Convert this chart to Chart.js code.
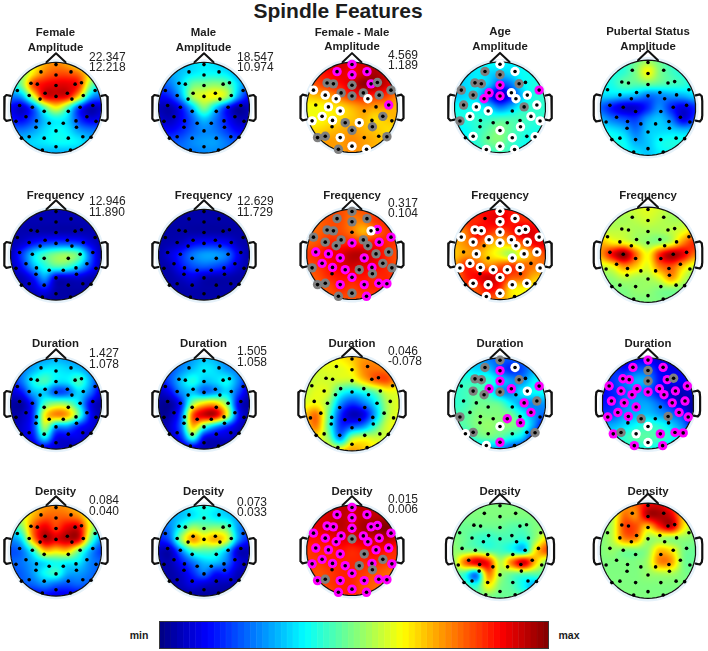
<!DOCTYPE html>
<html><head><meta charset="utf-8">
<style>
html,body{margin:0;padding:0;background:#fff;width:708px;height:651px;overflow:hidden}
body{position:relative;font-family:"Liberation Sans",Arial,sans-serif;color:#1c1c1c}
canvas{position:absolute;display:block}
.t{position:absolute;transform:translate(-50%,-50%);white-space:nowrap;font-weight:bold;font-size:11.4px;line-height:1;z-index:5}
.n{position:absolute;transform:translateY(-50%);white-space:nowrap;font-size:12px;line-height:1;z-index:5;color:#222}
</style>
<script src="https://cdn.jsdelivr.net/npm/chart.js@4"></script>
</head><body>
<script>
/* electrode positions, head radius = 1 */
const electrodeX=[0,-.33,.33,0,-.55,-.41,.42,.56,0,-.85,-.59,-.24,-.35,.25,.35,.60,.86,0,-.80,-.52,-.26,.27,.53,.81,-.66,-.43,-.15,.16,.44,.68,-.88,.88,-.44,.45,0,-.76,-.59,-.26,.27,.59,.77,0,-.30,.32];
const electrodeY=[.95,.79,.79,.72,.54,.52,.52,.55,.49,.38,.27,.32,.19,.32,.19,.27,.38,.25,.05,.01,-.08,-.08,.01,.05,-.20,-.29,-.34,-.34,-.29,-.20,-.30,-.30,-.43,-.43,-.51,-.67,-.64,-.67,-.67,-.64,-.65,-.86,-.93,-.93];

/* map values, 0 = colour-bar min, 100 = colour-bar max, rows run front to back */
const ampFemale=[[45,50,60,70,74,70,60,50,45],[45,50,65,76,80,80,76,62,45],[36,50,80,88,90,90,84,52,36],[24,30,58,88,90,88,66,32,22],[12,8,22,46,62,46,20,6,8],[14,12,20,32,38,34,18,10,12],[24,24,28,34,38,36,28,24,24],[32,32,34,36,38,38,36,32,32],[30,30,30,30,30,30,30,30,30]];
const ampMale=[[25,28,30,34,36,34,30,28,25],[24,28,32,36,38,38,36,28,24],[20,24,34,48,50,52,48,34,20],[12,16,30,54,60,62,54,28,12],[6,5,14,32,50,34,16,4,6],[8,6,12,22,32,24,14,6,6],[14,12,16,22,26,24,18,12,12],[20,20,22,26,28,28,24,20,20],[22,22,24,24,26,26,24,22,22]];
const ampDiff=[[88,90,92,92,90,92,94,92,90],[85,85,87,90,88,92,96,92,88],[78,80,84,86,92,98,98,92,85],[68,70,72,78,84,86,84,82,75],[62,62,64,66,70,74,72,72,70],[62,62,64,66,68,70,66,68,70],[66,66,68,70,72,70,68,66,66],[70,70,72,72,74,72,70,68,68],[72,72,72,72,74,72,70,68,68]];
const ampAge=[[36,36,36,38,38,36,36,36,36],[32,34,36,34,32,34,38,38,38],[32,34,36,32,20,24,36,40,40],[32,34,34,18,5,14,32,40,42],[38,38,38,34,24,30,40,42,42],[40,40,42,42,44,44,44,42,42],[36,38,42,46,50,46,42,40,40],[36,38,42,48,50,44,40,38,38],[36,38,40,42,44,42,38,36,36]];
const ampPuberty=[[40,40,42,48,52,48,42,40,40],[38,40,42,50,62,50,44,40,38],[38,40,46,46,48,46,44,42,38],[34,34,32,30,24,26,28,30,34],[22,14,8,8,16,26,16,10,16],[30,24,20,18,28,32,24,10,18],[38,36,32,24,32,34,34,32,32],[40,40,38,30,32,38,40,40,40],[38,38,38,36,32,36,38,38,38]];
const freqFemale=[[5,5,5,5,5,5,5,5,5],[5,5,5,5,5,5,5,5,5],[5,5,5,5,5,5,5,5,5],[5,8,14,18,20,20,18,10,5],[6,18,34,44,50,52,46,22,5],[6,14,30,40,46,44,34,18,6],[5,6,14,28,10,9,9,6,5],[4,5,8,14,5,4,4,4,4],[4,4,4,4,4,4,4,4,4]];
const freqMale=[[4,4,4,4,4,4,4,4,4],[4,4,4,4,4,4,4,4,4],[4,4,4,4,4,4,4,4,4],[4,5,7,12,14,14,12,6,4],[4,9,16,24,28,28,24,11,4],[4,6,14,20,22,20,16,8,4],[4,4,7,10,6,5,5,4,4],[4,4,4,5,4,4,4,4,4],[4,4,4,4,4,4,4,4,4]];
const freqDiff=[[80,80,80,80,78,80,80,80,80],[78,78,80,80,76,76,82,84,84],[76,78,80,80,76,70,76,82,85],[78,80,84,84,84,84,86,84,82],[82,84,88,90,94,94,90,84,80],[80,82,86,90,92,90,88,84,80],[78,80,84,86,86,86,84,84,82],[78,78,80,84,82,84,84,84,80],[80,80,80,80,80,80,80,80,80]];
const freqAge=[[85,85,88,88,88,86,84,84,84],[82,84,84,88,90,86,84,84,84],[72,76,88,84,80,84,92,90,84],[70,74,80,72,68,72,80,88,90],[68,72,72,66,60,54,64,74,80],[72,84,80,74,78,82,78,76,76],[74,84,88,92,88,80,78,70,68],[78,80,80,88,84,66,64,62,60],[80,80,80,80,74,66,62,60,60]];
const freqPuberty=[[52,54,56,58,60,58,54,52,52],[54,54,54,56,58,56,54,54,56],[56,56,56,54,54,54,56,60,68],[70,64,62,56,52,52,58,74,84],[72,88,98,78,62,84,96,90,76],[58,62,74,68,60,76,80,68,58],[50,52,56,54,54,60,72,58,50],[50,50,50,52,52,50,50,50,50],[50,50,50,50,50,50,50,50,50]];
const durFemale=[[22,24,26,28,30,28,26,24,22],[20,24,30,36,36,34,32,26,20],[14,24,38,44,36,36,44,30,14],[8,14,30,32,20,22,34,24,8],[4,4,18,44,52,50,36,12,4],[4,6,18,62,74,70,46,14,5],[6,8,18,54,30,28,16,10,6],[6,8,14,36,12,10,10,6,6],[5,6,6,8,8,6,6,5,5]];
const durMale=[[20,22,24,28,32,30,24,22,20],[18,20,26,32,36,34,28,24,18],[12,20,32,40,32,34,38,26,12],[6,12,26,32,24,28,34,20,6],[3,3,16,52,66,68,50,12,3],[2,5,22,78,92,92,62,16,4],[4,8,24,68,46,30,18,8,4],[4,6,16,42,12,8,8,5,4],[4,4,4,6,5,4,4,4,4]];
const durDiff=[[60,60,62,64,68,72,72,66,62],[56,58,60,60,64,74,76,74,68],[54,58,58,58,58,68,78,80,70],[56,60,58,42,36,40,48,60,60],[60,62,52,28,18,24,36,54,60],[68,76,48,18,6,10,30,54,60],[66,74,46,18,22,28,44,58,62],[62,62,52,28,54,60,58,58,60],[60,60,62,64,72,68,64,60,60]];
const durAge=[[30,30,30,24,22,22,24,24,26],[36,36,34,32,22,16,20,28,30],[40,42,42,42,34,28,26,36,38],[42,44,46,42,28,26,36,38,38],[42,44,48,48,46,36,28,26,28],[44,46,50,50,50,48,38,28,22],[44,46,50,52,50,50,44,28,10],[34,38,46,48,46,40,34,14,6],[24,28,30,30,28,20,14,8,6]];
const durPuberty=[[10,10,10,12,10,8,8,8,8],[14,16,14,20,20,12,10,10,10],[14,18,24,30,28,14,12,12,12],[12,16,22,26,22,12,6,6,8],[14,16,24,28,28,22,14,6,4],[18,20,28,30,32,28,24,18,4],[28,30,34,38,42,40,34,26,14],[34,36,42,46,46,44,40,32,24],[34,36,40,40,40,38,34,30,26]];
const densFemale=[[56,60,66,72,74,72,66,60,56],[52,58,70,78,78,78,74,60,52],[38,50,78,90,82,90,90,60,38],[26,36,72,94,90,94,90,50,26],[20,24,42,68,66,68,50,30,18],[22,24,30,36,40,38,36,26,22],[20,22,28,38,42,30,28,24,20],[18,20,22,26,22,20,22,20,18],[8,8,10,12,10,10,10,8,8]];
const densMale=[[26,28,32,38,40,38,32,28,26],[24,28,32,36,40,36,34,28,24],[20,26,40,54,50,52,48,28,20],[14,22,52,72,64,70,60,28,14],[6,6,26,44,46,44,32,8,6],[6,5,14,24,32,32,24,10,6],[5,4,8,16,24,14,14,6,6],[4,4,6,10,8,6,5,4,4],[3,3,3,3,3,3,3,3,3]];
const densDiff=[[92,92,92,94,94,94,92,90,90],[88,90,92,94,92,94,94,94,92],[88,90,92,94,92,96,98,100,96],[86,86,88,90,90,92,92,94,92],[82,84,84,86,84,86,88,86,84],[82,82,84,84,84,84,84,82,82],[82,80,82,84,84,82,80,78,76],[80,80,82,84,84,80,78,76,76],[80,80,80,84,84,80,78,76,76]];
const densAge=[[50,50,50,50,50,50,50,50,50],[50,50,50,50,50,50,50,50,50],[48,48,48,48,48,46,46,50,50],[50,48,44,42,44,44,42,52,66],[52,50,50,46,44,40,34,64,80],[50,76,90,86,56,76,92,68,50],[48,42,26,74,54,48,46,46,46],[46,46,42,62,50,46,38,30,46],[46,48,48,48,48,48,48,48,48]];
const densPuberty=[[58,62,70,78,88,90,80,66,60],[52,56,76,74,94,96,90,68,54],[50,56,80,80,68,84,92,66,52],[50,56,74,74,54,54,52,52,50],[50,52,50,50,52,68,64,50,48],[50,50,50,50,54,74,72,50,48],[50,50,50,50,52,54,54,50,48],[50,50,50,50,50,50,50,50,50],[50,50,50,50,50,50,50,50,50]];

/* electrode status per map: . plain, w white, g grey, m magenta */
const marksAmpDiff="mmmmggmggw"+"wgwgwggg.w"+"w..mwwgw.g"+"w..ggggw.."+"gwgw";
const marksAmpAge="wgwgggg.mg"+"gmmwwwmmgw"+"w.gww....w"+"gw.ww.w.w."+"wwww";
const marksFreqDiff="ggggggwm.g"+"gggggmmmmm"+"mmggmmmgmg"+"gg.gmggmmm"+"mggm";
const marksFreqAge="w.wwwwwwww"+"ww.wwwww.w"+".wwwwwwww."+"ww..w.wwww"+".ww.";
const marksDurAge="ggwmggg.m."+"gmgm.wmg.."+"..mg...m.m"+"g..mwwg..."+"gmw.";
const marksDurPuberty="mmmgmmmggm"+"mmmmmmmmmm"+"m.mmmmg.gm"+"mm..wmgwmm"+"mwmm";
const marksDensDiff="mmmmmmmmmm"+"mmmmmmmgmm"+"mgmmmmmgmg"+"mm.gmmgmmm"+"mmmm";
const marksNone=".".repeat(44);

/* text */
const headTitles=[["Female","Amplitude"],["Male","Amplitude"],["Female - Male","Amplitude"],["Age","Amplitude"],["Pubertal Status","Amplitude"]];
const rowTitles=["","Frequency","Duration","Density"];
const rangeLabels=[
 [["22.347","12.218"],["18.547","10.974"],["4.569","1.189"],null,null],
 [["12.946","11.890"],["12.629","11.729"],["0.317","0.104"],null,null],
 [["1.427","1.078"],["1.505","1.058"],["0.046","-0.078"],null,null],
 [["0.084","0.040"],["0.073","0.033"],["0.015","0.006"],null,null]];
const colorbarLevels=[0,1,2,3,4,5,6,7,8,9,10,11,12,13,14,15,16,17,18,19,20,21,22,23,24,25,26,27,28,29,30,31,32,33,34,35,36,37,38,39,40,41,42,43,44,45,46,47,48,49,50,51,52,53,54,55,56,57,58,59,60,61,62,63];

const mapGrid=[[ampFemale,ampMale,ampDiff,ampAge,ampPuberty],[freqFemale,freqMale,freqDiff,freqAge,freqPuberty],[durFemale,durMale,durDiff,durAge,durPuberty],[densFemale,densMale,densDiff,densAge,densPuberty]];
const markGrid=[[marksNone,marksNone,marksAmpDiff,marksAmpAge,marksNone],[marksNone,marksNone,marksFreqDiff,marksFreqAge,marksNone],[marksNone,marksNone,marksNone,marksDurAge,marksDurPuberty],[marksNone,marksNone,marksDensDiff,marksNone,marksNone]];

/* layout */
const colX=[55.5,203.5,352,500,648];
const rowY=[107.5,255,404,551];
const colR=[46.6,46.6,48.4,48.6,48.8];

function jet(v){
  const t=Math.max(0,Math.min(1,v/100));
  const ch=d=>Math.max(0,Math.min(1,1.5-Math.abs(4*t-d)));
  return [Math.round(255*ch(3)),Math.round(255*ch(2)),Math.round(255*ch(1))];
}
function cr(a,b,c,d,t){return b+.5*t*(c-a+t*(2*a-5*b+4*c-d+t*(3*(b-c)+d-a)));}
function sampleGrid(g,x,y){
  const gx=(x+1)*4, gy=(1-y)*4;
  const ix=Math.floor(gx), iy=Math.floor(gy), tx=gx-ix, ty=gy-iy;
  const at=(r,c)=>g[Math.max(0,Math.min(8,r))][Math.max(0,Math.min(8,c))];
  const row=r=>cr(at(r,ix-1),at(r,ix),at(r,ix+1),at(r,ix+2),tx);
  return cr(row(iy-1),row(iy),row(iy+1),row(iy+2),ty);
}
const heatPlugin={id:'heat',beforeDatasetsDraw(chart,args,opts){
  const {ctx,scales:{x,y}}=chart;
  const x0=x.getPixelForValue(-1),x1=x.getPixelForValue(1),y0=y.getPixelForValue(1),y1=y.getPixelForValue(-1);
  const w=Math.ceil(x1-x0),h=Math.ceil(y1-y0);
  const off=document.createElement('canvas');off.width=w;off.height=h;
  const oc=off.getContext('2d'),id=oc.createImageData(w,h);
  for(let j=0;j<h;j++)for(let i=0;i<w;i++){
    const vx=x.getValueForPixel(x0+i+.5),vy=y.getValueForPixel(y0+j+.5);
    const c=jet(sampleGrid(opts.grid,vx,vy)),k=4*(j*w+i);
    id.data[k]=c[0];id.data[k+1]=c[1];id.data[k+2]=c[2];id.data[k+3]=255;
  }
  oc.putImageData(id,0,0);
  ctx.save();ctx.beginPath();
  ctx.arc(x.getPixelForValue(0),y.getPixelForValue(0),(x1-x0)/2,0,Math.PI*2);ctx.clip();
  ctx.drawImage(off,x0,y0,x1-x0,y1-y0);ctx.restore();
}};

const circleXs=[],circleYs=[];
for(let a=0;a<=72;a++){circleXs.push(Math.sin(a*Math.PI/36));circleYs.push(Math.cos(a*Math.PI/36));}
const line=(xs,ys,color,width)=>({type:'line',data:xs.map((v,i)=>({x:v,y:ys[i]})),borderColor:color,borderWidth:width,pointRadius:0,fill:false,tension:0,borderCapStyle:'round',borderJoinStyle:'round'});
const noseX=[-.21,0,.21],noseY=[1.0,1.2,1.0];
const earLX=[-1.0,-1.09,-1.13,-1.14,-1.14,-1.13,-1.09,-1.0],earRX=[1.0,1.09,1.13,1.14,1.14,1.13,1.09,1.0];
const earY=[.26,.28,.24,.14,-.16,-.24,-.29,-.27];

function panel(r,c){
  const R=colR[c],cx=colX[c],cy=rowY[r],W=148,up=80,down=60;
  const cv=document.createElement('canvas');cv.width=W;cv.height=up+down;
  cv.style.left=Math.round(cx-W/2)+'px';cv.style.top=Math.round(cy-up)+'px';
  document.body.appendChild(cv);
  const marks=markGrid[r][c],pts=k=>electrodeX.map((v,i)=>({x:v,y:electrodeY[i],s:marks[i]})).filter(p=>p.s===k);
  const dot=(k,color,rad)=>({type:'scatter',data:k==='all'?electrodeX.map((v,i)=>({x:v,y:electrodeY[i]})):pts(k),backgroundColor:color,borderWidth:0,pointRadius:rad,pointHoverRadius:rad});
  new Chart(cv,{type:'scatter',
    data:{datasets:[dot('all','#000',1.8),dot('w','#fff',4.7),dot('g','#7f7f7f',4.7),dot('m','#ff00ff',4.7),
      line(circleXs,circleYs,'#111',1.2),line(noseX,noseY,'#111',2),line(earLX,earY,'#111',2.2),line(earRX,earY,'#111',2.2),
      line(circleXs.map(v=>v*1.035),circleYs.map(v=>v*1.035),'#e6f2fa',3)]},
    options:{responsive:false,animation:false,events:[],layout:{padding:0},
      plugins:{legend:{display:false},tooltip:{enabled:false},title:{display:false},heat:{grid:mapGrid[r][c]}},
      scales:{x:{type:'linear',display:false,min:-W/2/R,max:W/2/R},y:{type:'linear',display:false,min:-down/R,max:up/R}}},
    plugins:[heatPlugin]});
}
function text(cls,str,x,y,extra){const d=document.createElement('div');d.className=cls;d.textContent=str;d.style.left=x+'px';d.style.top=y+'px';if(extra)Object.assign(d.style,extra);document.body.appendChild(d);}

for(let r=0;r<4;r++)for(let c=0;c<5;c++)panel(r,c);

/* titles */
text('t','Spindle Features',338,10,{fontSize:'21px'});
const titleY1=[33,33,33,32,32],titleY2=[48,48,47,47,47];
headTitles.forEach((t,c)=>{text('t',t[0],colX[c],titleY1[c]);text('t',t[1],colX[c],titleY2[c]);});
const rowTitleY=[0,195.5,343.5,492];
for(let r=1;r<4;r++)for(let c=0;c<5;c++)text('t',rowTitles[r],colX[c],rowTitleY[r]);
const rangeX=[89,237,388];
const rangeYs=[[[57,67],[57,67],[55,65]],[[201,212],[201,212],[203,213]],[[353,364],[351,362],[351,361]],[[500,511],[502,512],[499,509]]];
rangeLabels.forEach((row,r)=>row.forEach((l,c)=>{if(l){text('n',l[0],rangeX[c],rangeYs[r][c][0]);text('n',l[1],rangeX[c],rangeYs[r][c][1]);}}));

/* colour bar */
const cb=document.createElement('canvas');cb.width=390;cb.height=28;cb.style.left='159px';cb.style.top='621px';document.body.appendChild(cb);
const cbColors=colorbarLevels.map(v=>{const c=jet(100*(v+.5)/64);return `rgb(${c[0]},${c[1]},${c[2]})`;});
new Chart(cb,{type:'bar',data:{labels:colorbarLevels,datasets:[{data:colorbarLevels.map(()=>1),backgroundColor:cbColors,borderColor:cbColors,borderWidth:.6,barPercentage:1,categoryPercentage:1}]},
  options:{responsive:false,animation:false,events:[],layout:{padding:0},plugins:{legend:{display:false},tooltip:{enabled:false}},
    scales:{x:{display:false},y:{display:false,min:0,max:1}}},
  plugins:[{id:'frame',afterDraw(ch){const {ctx,chartArea:a}=ch;ctx.save();ctx.strokeStyle='#3a3a3a';ctx.lineWidth=1;ctx.strokeRect(a.left+.5,a.top+.5,a.right-a.left-1,a.bottom-a.top-1);ctx.restore();}}]});
text('t','min',139,634.5,{fontSize:'10.5px'});
text('t','max',569,634.5,{fontSize:'10.5px'});
</script>
</body></html>
